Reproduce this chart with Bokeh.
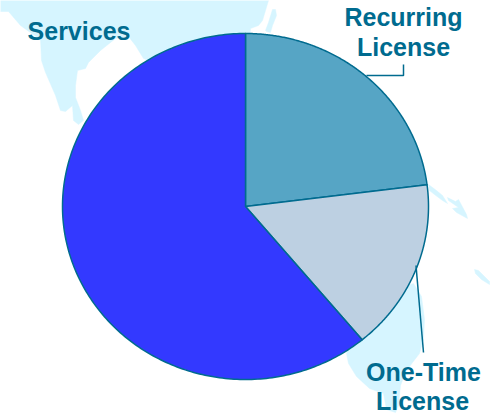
import numpy as np
from bokeh.core.properties import value
from bokeh.embed import file_html
from bokeh.models import Range1d
from bokeh.plotting import figure
from bokeh.resources import INLINE

categories = ["Recurring License", "One-Time License", "Services"]
shares = [23, 16, 61]
colors = ["#56A5C5", "#BDD0E2", "#3339FF"]

asia_x = [0, 8, 14, 20, 27, 40, 41, 45, 55, 60, 65, 72, 73, 78, 83, 80, 75, 75, 77, 85, 88, 100, 115, 128, 135, 143, 245, 250, 258, 262, 265, 268, 0]
asia_y = [11, 11, 18, 25, 30, 39, 60, 72, 95, 110, 111, 105, 120, 124, 120, 110, 97, 85, 70, 68, 62, 50, 38, 36, 45, 58, 100, 28, 25, 20, 10, 0, 0]
taiwan_x = [265, 268, 272, 275, 276, 272, 270, 266]
taiwan_y = [30, 22, 9, 9, 15, 25, 32, 31]
isle1_x = [428, 436, 442, 447, 442, 434, 429]
isle1_y = [184, 190, 195, 203, 200, 194, 190]
isle2_x = [447, 455, 458, 466, 467, 456, 452, 458, 448]
isle2_y = [197, 201, 199, 214, 218, 212, 208, 207, 200]
isle3_x = [474, 478, 489, 489, 481, 475]
isle3_y = [269, 270, 281, 284, 279, 273]
oz_x = [413, 421, 424, 423, 419, 412, 405, 400, 398, 395, 386, 383, 369, 356, 348, 346, 360]
oz_y = [283, 296, 319, 339, 353, 362, 372, 385, 405, 412, 409, 393, 388, 376, 363, 353, 300]
map_xs = [asia_x, taiwan_x, isle1_x, isle2_x, isle3_x, oz_x]
map_ys = [asia_y, taiwan_y, isle1_y, isle2_y, isle3_y, oz_y]

label_lines = ["Services", "Recurring", "License", "One-Time", "License"]
label_x = [78.5, 403, 403, 423, 422]
label_y = [30, 16.5, 46, 371, 400]

INK = "#006B8F"
CX, CY, RX, RY = 245, 206, 183, 173

p = figure(width=492, height=413, output_backend="svg", toolbar_location=None,
           x_range=Range1d(0, 492), y_range=Range1d(413, 0), min_border=0,
           background_fill_color="white", outline_line_color=None)
p.axis.visible = False
p.grid.visible = False

p.patches(map_xs, map_ys, fill_color="#D6F5FF", line_color="#D6F5FF", line_width=0.5)

total = sum(shares)
edges = np.cumsum([0] + shares) / total * 2 * np.pi
xs, ys = [], []
for a, b in zip(edges[:-1], edges[1:]):
    t = np.linspace(a, b, 240)
    xs.append(np.r_[CX, CX + RX * np.sin(t)].tolist())
    ys.append(np.r_[CY, CY - RY * np.cos(t)].tolist())
p.patches(xs, ys, fill_color=colors, line_color=INK, line_width=1.5, line_join="round")

p.line([366, 403, 403], [75, 75, 64], line_color=INK, line_width=1.5)
p.line([415.5, 423], [265, 352], line_color=INK, line_width=1.5)

p.text(label_x, label_y, text=label_lines, text_color=INK, text_align="center",
       text_baseline="middle", text_font=value("Liberation Sans"),
       text_font_style="bold", text_font_size="25px")

open("out.html", "w").write(file_html(p, INLINE))
